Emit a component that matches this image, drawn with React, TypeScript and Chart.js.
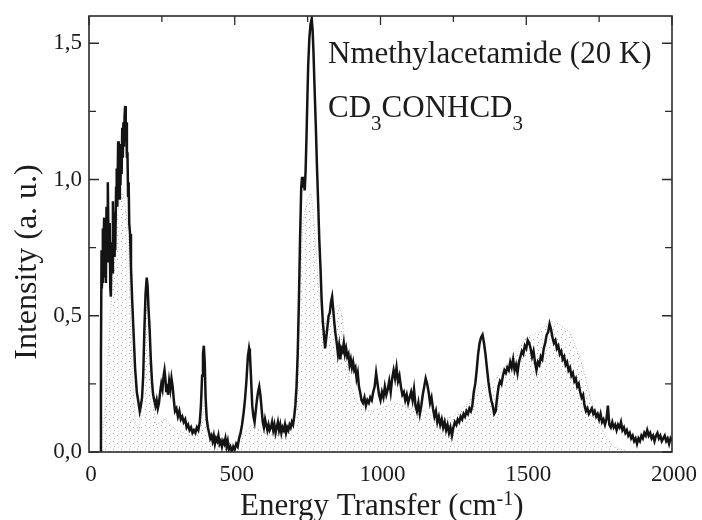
import { useEffect, useRef } from "react";
import { Chart, registerables } from "chart.js";

Chart.register(...registerables);

// Measured INS spectrum: [energy transfer (cm-1), intensity (a.u.)]
const measuredSpectrum: [number, number][] = [
  [38, 0.0], [41, 0.35], [43, 0.74], [44, 0.6], [46, 0.66], [47, 0.82], [48, 0.62], [50, 0.78],
  [52, 0.86], [53, 0.64], [54, 0.74], [56, 0.8], [58, 0.62], [60, 0.9], [62, 0.7], [64, 0.94],
  [65, 0.99], [67, 0.78], [69, 0.7], [71, 0.84], [73, 0.6], [75, 0.57], [77, 0.77], [79, 0.66],
  [82, 0.92], [84, 0.76], [86, 0.72], [88, 0.88], [90, 0.74], [93, 0.97], [95, 1.04], [97, 0.9],
  [100, 1.14], [102, 0.98], [104, 0.93], [106, 1.1], [108, 0.98], [110, 1.13], [112, 1.02], [114, 1.19],
  [116, 1.08], [118, 1.21], [120, 1.12], [122, 1.23], [124, 1.27], [126, 1.16], [128, 1.21], [130, 1.08],
  [132, 1.1], [134, 0.94], [136, 0.99], [138, 0.84], [141, 0.8], [144, 0.68], [148, 0.56], [152, 0.46],
  [158, 0.31], [164, 0.22], [170, 0.18], [174, 0.15],
  [178, 0.17], [182, 0.2], [186, 0.28], [190, 0.45], [194, 0.58], [198, 0.64], [201, 0.61], [204, 0.53],
  [208, 0.45], [212, 0.34], [216, 0.26], [220, 0.21], [224, 0.19], [228, 0.17], [232, 0.19], [236, 0.16],
  [240, 0.18], [244, 0.22], [248, 0.25], [252, 0.23], [256, 0.28], [259, 0.3], [262, 0.27], [265, 0.22],
  [268, 0.25], [271, 0.21], [275, 0.26], [279, 0.23], [283, 0.27], [287, 0.24], [291, 0.19], [295, 0.15],
  [300, 0.16], [305, 0.13], [310, 0.15], [315, 0.12], [320, 0.13], [325, 0.11], [330, 0.12], [335, 0.09],
  [340, 0.1], [345, 0.08], [350, 0.09], [355, 0.07], [360, 0.08], [365, 0.07], [370, 0.09], [375, 0.08],
  [380, 0.11], [384, 0.17], [388, 0.28], [391, 0.36], [394, 0.39], [397, 0.33], [400, 0.2], [404, 0.12],
  [408, 0.09], [412, 0.07], [416, 0.05], [420, 0.06], [424, 0.04], [428, 0.06], [432, 0.03], [436, 0.05],
  [440, 0.04], [444, 0.06], [448, 0.03], [452, 0.04], [456, 0.02], [460, 0.04], [464, 0.03], [468, 0.05],
  [472, 0.02], [476, 0.04], [480, 0.01], [485, 0.02], [490, 0.0], [495, 0.02], [500, 0.01], [505, 0.03],
  [510, 0.02], [515, 0.05], [520, 0.07], [525, 0.1], [530, 0.14], [535, 0.19], [540, 0.26], [545, 0.35],
  [549, 0.38], [552, 0.36], [556, 0.27], [560, 0.17], [564, 0.13], [568, 0.11], [572, 0.15], [576, 0.19],
  [580, 0.22], [584, 0.24], [588, 0.21], [592, 0.16], [596, 0.11], [600, 0.09], [604, 0.12], [608, 0.1],
  [612, 0.08], [616, 0.1], [620, 0.08], [624, 0.09], [628, 0.11], [632, 0.08], [636, 0.1], [640, 0.07],
  [644, 0.09], [648, 0.11], [652, 0.08], [656, 0.1], [660, 0.07], [664, 0.09], [668, 0.08], [672, 0.1],
  [676, 0.07], [680, 0.09], [684, 0.08], [688, 0.1], [692, 0.09], [696, 0.11], [700, 0.1], [704, 0.13],
  [708, 0.17], [712, 0.24], [716, 0.36], [720, 0.55], [724, 0.78], [728, 0.97], [731, 1.01], [734, 0.97],
  [737, 1.0], [740, 0.96], [743, 1.03], [746, 1.15], [749, 1.29], [752, 1.42], [756, 1.52], [760, 1.57],
  [764, 1.59], [767, 1.55], [770, 1.47], [774, 1.33], [778, 1.2], [782, 1.05], [786, 0.92], [790, 0.78],
  [794, 0.68], [798, 0.56], [802, 0.48], [806, 0.43], [810, 0.38], [814, 0.42], [818, 0.46], [822, 0.5],
  [826, 0.51], [830, 0.55], [834, 0.57], [838, 0.52], [842, 0.47], [846, 0.43], [850, 0.4], [854, 0.36],
  [858, 0.39], [862, 0.34], [866, 0.38], [870, 0.37], [874, 0.4], [878, 0.36], [882, 0.38], [886, 0.35],
  [890, 0.36], [894, 0.32], [898, 0.34], [902, 0.31], [906, 0.33], [910, 0.3], [914, 0.31], [918, 0.27],
  [922, 0.29], [926, 0.24], [930, 0.22], [935, 0.19], [940, 0.18], [945, 0.2], [950, 0.17], [955, 0.19],
  [960, 0.18], [965, 0.2], [970, 0.19], [975, 0.22], [980, 0.24], [985, 0.29], [990, 0.25], [995, 0.21],
  [1000, 0.19], [1005, 0.22], [1010, 0.2], [1015, 0.24], [1020, 0.21], [1025, 0.23], [1030, 0.26], [1035, 0.22],
  [1040, 0.27], [1045, 0.3], [1050, 0.27], [1055, 0.31], [1060, 0.26], [1065, 0.28], [1070, 0.24], [1075, 0.21],
  [1080, 0.22], [1085, 0.19], [1090, 0.21], [1095, 0.18], [1100, 0.2], [1105, 0.22], [1110, 0.19], [1115, 0.23],
  [1120, 0.17], [1125, 0.15], [1130, 0.18], [1135, 0.14], [1140, 0.17], [1145, 0.21], [1150, 0.24], [1155, 0.27],
  [1160, 0.25], [1165, 0.22], [1170, 0.18], [1175, 0.2], [1180, 0.16], [1185, 0.13], [1190, 0.15], [1195, 0.11],
  [1200, 0.13], [1205, 0.1], [1210, 0.12], [1215, 0.09], [1220, 0.11], [1225, 0.08], [1230, 0.1], [1235, 0.07],
  [1240, 0.09], [1245, 0.06], [1250, 0.09], [1255, 0.11], [1260, 0.1], [1265, 0.12], [1270, 0.11], [1275, 0.13],
  [1280, 0.12], [1285, 0.14], [1290, 0.13], [1295, 0.15], [1300, 0.14], [1305, 0.16], [1310, 0.15], [1315, 0.17],
  [1320, 0.22], [1325, 0.25], [1330, 0.3], [1335, 0.36], [1340, 0.4], [1345, 0.42], [1350, 0.43], [1355, 0.4],
  [1360, 0.36], [1365, 0.31], [1370, 0.26], [1375, 0.22], [1380, 0.19], [1385, 0.17], [1390, 0.14], [1395, 0.15],
  [1400, 0.2], [1405, 0.24], [1410, 0.26], [1415, 0.25], [1420, 0.28], [1425, 0.3], [1430, 0.29], [1435, 0.31],
  [1440, 0.3], [1445, 0.33], [1450, 0.31], [1455, 0.34], [1460, 0.3], [1465, 0.32], [1470, 0.29], [1475, 0.33],
  [1480, 0.35], [1485, 0.37], [1490, 0.36], [1495, 0.39], [1500, 0.38], [1505, 0.41], [1510, 0.4], [1515, 0.38],
  [1520, 0.35], [1525, 0.37], [1530, 0.33], [1535, 0.3], [1540, 0.33], [1545, 0.32], [1550, 0.35], [1555, 0.34],
  [1560, 0.38], [1565, 0.4], [1570, 0.43], [1575, 0.44], [1580, 0.47], [1585, 0.45], [1590, 0.42], [1595, 0.4],
  [1600, 0.41], [1605, 0.38], [1610, 0.39], [1615, 0.36], [1620, 0.37], [1625, 0.34], [1630, 0.35], [1635, 0.32],
  [1640, 0.33], [1645, 0.3], [1650, 0.31], [1655, 0.28], [1660, 0.29], [1665, 0.26], [1670, 0.27], [1675, 0.24],
  [1680, 0.25], [1685, 0.22], [1690, 0.2], [1695, 0.21], [1700, 0.17], [1705, 0.15], [1710, 0.16], [1715, 0.14],
  [1720, 0.15], [1725, 0.16], [1730, 0.14], [1735, 0.15], [1740, 0.13], [1745, 0.14], [1750, 0.12], [1755, 0.14],
  [1760, 0.11], [1765, 0.12], [1770, 0.1], [1775, 0.12], [1780, 0.17], [1785, 0.1], [1790, 0.09], [1795, 0.11],
  [1800, 0.09], [1805, 0.1], [1810, 0.08], [1815, 0.1], [1820, 0.09], [1825, 0.11], [1830, 0.08], [1835, 0.09],
  [1840, 0.07], [1845, 0.08], [1850, 0.06], [1855, 0.07], [1860, 0.05], [1865, 0.06], [1870, 0.04], [1875, 0.05],
  [1880, 0.03], [1885, 0.05], [1890, 0.04], [1895, 0.06], [1900, 0.05], [1905, 0.07], [1910, 0.06], [1915, 0.08],
  [1920, 0.06], [1925, 0.07], [1930, 0.05], [1935, 0.06], [1940, 0.04], [1945, 0.06], [1950, 0.07], [1955, 0.05],
  [1960, 0.06], [1965, 0.04], [1970, 0.05], [1975, 0.06], [1980, 0.04], [1985, 0.05], [1990, 0.03], [1995, 0.05],
  [2000, 0.04],
];

// Calculated spectrum, drawn as a stippled area
const calculatedSpectrum: [number, number][] = [
  [0, 0], [40, 0], [55, 0.15], [70, 0.45], [85, 0.7], [95, 0.85], [105, 0.92], [115, 0.95],
  [125, 0.9], [135, 0.8], [142, 0.5], [150, 0.25], [160, 0.1], [172, 0.08], [182, 0.2], [192, 0.48],
  [200, 0.55], [208, 0.45], [218, 0.2], [230, 0.1], [260, 0.12], [300, 0.08], [350, 0.06], [385, 0.1],
  [395, 0.18], [405, 0.08], [450, 0.04], [500, 0.03], [540, 0.08], [560, 0.1], [585, 0.08], [620, 0.06],
  [680, 0.08], [700, 0.12], [712, 0.3], [722, 0.6], [735, 0.85], [750, 0.93], [762, 0.95], [775, 0.8],
  [788, 0.6], [800, 0.5], [815, 0.48], [830, 0.5], [845, 0.53], [858, 0.54], [868, 0.5], [880, 0.38],
  [895, 0.25], [920, 0.18], [960, 0.15], [1000, 0.16], [1050, 0.18], [1100, 0.16], [1150, 0.15], [1200, 0.12],
  [1250, 0.13], [1300, 0.18], [1340, 0.24], [1380, 0.25], [1420, 0.3], [1460, 0.36], [1500, 0.42], [1540, 0.44],
  [1580, 0.48], [1610, 0.47], [1650, 0.44], [1690, 0.33], [1720, 0.2], [1745, 0.12], [1770, 0.06], [1800, 0.02],
  [1850, 0], [2000, 0],
];

const xTickValues = [0, 250, 500, 750, 1000, 1250, 1500, 1750, 2000];
const xLabeled = [0, 500, 1000, 1500, 2000];
const yTickValues = [0, 0.25, 0.5, 0.75, 1.0, 1.25, 1.5];
const yLabeled = [0, 0.5, 1.0, 1.5];

const compoundName = "Nmethylacetamide (20 K)";
const SERIF = '"Liberation Serif", "Times New Roman", serif';
const INK = "#1c1c1c";

const fmtComma = (v: number) => v.toFixed(1).replace(".", ",");

type Run = { text: string; size: number; rise: number };

function drawRuns(ctx: CanvasRenderingContext2D, x: number, y: number, runs: Run[]) {
  let cx = x;
  for (const r of runs) {
    ctx.font = `${r.size}px ${SERIF}`;
    ctx.fillText(r.text, cx, y - r.rise);
    cx += ctx.measureText(r.text).width;
  }
}

const framePlugin = {
  id: "frameTicks",
  afterDatasetsDraw(chart: any) {
    const { ctx, chartArea: a, scales } = chart;
    ctx.save();
    ctx.strokeStyle = "#2a2a2a";
    ctx.lineWidth = 1.6;
    ctx.strokeRect(a.left, a.top, a.right - a.left, a.bottom - a.top);
    ctx.lineWidth = 1.3;
    ctx.beginPath();
    for (const v of yTickValues) {
      const py = scales.y.getPixelForValue(v);
      const len = yLabeled.includes(v) ? 10 : 7;
      ctx.moveTo(a.left, py);
      ctx.lineTo(a.left + len, py);
      ctx.moveTo(a.right, py);
      ctx.lineTo(a.right - len, py);
    }
    for (const v of xTickValues) {
      const px = scales.x.getPixelForValue(v);
      const len = xLabeled.includes(v) ? 9 : 6;
      ctx.moveTo(px, a.top);
      ctx.lineTo(px, a.top + len);
    }
    ctx.stroke();
    ctx.restore();
  },
};

const textPlugin = {
  id: "figureText",
  afterDraw(chart: any) {
    const { ctx } = chart;
    ctx.save();
    ctx.fillStyle = INK;
    ctx.textAlign = "left";
    ctx.textBaseline = "alphabetic";

    // sample label
    drawRuns(ctx, 328, 63, [{ text: compoundName, size: 31, rise: 0 }]);
    drawRuns(ctx, 328, 117, [
      { text: "CD", size: 31, rise: 0 },
      { text: "3", size: 21, rise: -13 },
      { text: "CONHCD", size: 31, rise: 0 },
      { text: "3", size: 21, rise: -13 },
    ]);

    // x-axis title with superscript
    drawRuns(ctx, 240, 515, [
      { text: "Energy Transfer (cm", size: 31, rise: 0 },
      { text: "-1", size: 20, rise: 10 },
      { text: ")", size: 31, rise: 0 },
    ]);

    // y-axis title
    ctx.translate(36, 262);
    ctx.rotate(-Math.PI / 2);
    ctx.textAlign = "center";
    ctx.font = `32px ${SERIF}`;
    ctx.fillText("Intensity (a. u.)", 0, 0);
    ctx.restore();
  },
};

// sparse grey stipple used to fill the calculated spectrum
function makeStipple(): CanvasPattern | string {
  const c = document.createElement("canvas");
  c.width = 8;
  c.height = 8;
  const g = c.getContext("2d");
  if (!g) return "rgba(0,0,0,0.06)";
  g.fillStyle = "rgba(60,60,60,0.45)";
  g.fillRect(1, 1, 1, 1);
  g.fillRect(5, 3, 1, 1);
  g.fillRect(2, 6, 1, 1);
  g.fillStyle = "rgba(90,90,90,0.22)";
  g.fillRect(6, 7, 1, 1);
  g.fillRect(3, 4, 1, 1);
  return g.createPattern(c, "repeat") || "rgba(0,0,0,0.06)";
}

export default function App() {
  const canvasRef = useRef<HTMLCanvasElement | null>(null);

  useEffect(() => {
    const canvas = canvasRef.current;
    if (!canvas) return;
    const tickFont = { family: SERIF, size: 23 };

    const chart = new Chart(canvas, {
      type: "line",
      data: {
        datasets: [
          {
            label: "measured",
            data: measuredSpectrum.map(([x, y]) => ({ x, y })),
            borderColor: "#141414",
            borderWidth: 2.5,
            pointRadius: 0,
            tension: 0,
            fill: false,
            order: 0,
          },
          {
            label: "calculated",
            data: calculatedSpectrum.map(([x, y]) => ({ x, y })),
            borderColor: "rgba(110,110,110,0.45)",
            borderWidth: 1,
            borderDash: [1, 2],
            backgroundColor: makeStipple() as any,
            pointRadius: 0,
            tension: 0,
            fill: "origin",
            order: 1,
          },
        ],
      },
      options: {
        responsive: false,
        animation: false,
        events: [],
        layout: { padding: { top: 16, right: 30, left: 0, bottom: 0 } },
        plugins: {
          legend: { display: false },
          tooltip: { enabled: false },
        },
        scales: {
          x: {
            type: "linear",
            min: 0,
            max: 2000,
            grid: { display: false, drawTicks: false },
            border: { display: false },
            afterBuildTicks: (s: any) => {
              s.ticks = xTickValues.map((value) => ({ value }));
            },
            afterFit: (s: any) => {
              s.height = 68;
              s.paddingLeft = 0;
              s.paddingRight = 0;
            },
            ticks: {
              autoSkip: false,
              maxRotation: 0,
              padding: 9,
              labelOffset: 2,
              color: INK,
              font: tickFont,
              callback: (v: any) => (xLabeled.includes(Number(v)) ? String(v) : ""),
            },
          },
          y: {
            type: "linear",
            min: 0,
            max: 1.6,
            grid: { display: false, drawTicks: false },
            border: { display: false },
            afterBuildTicks: (s: any) => {
              s.ticks = yTickValues.map((value) => ({ value }));
            },
            afterFit: (s: any) => {
              s.width = 89;
              s.paddingTop = 0;
              s.paddingBottom = 0;
            },
            ticks: {
              autoSkip: false,
              padding: 7,
              color: INK,
              font: tickFont,
              callback: (v: any) => (yLabeled.includes(Number(v)) ? fmtComma(Number(v)) : ""),
            },
          },
        },
      },
      plugins: [framePlugin, textPlugin],
    });

    return () => chart.destroy();
  }, []);

  return (
    <div style={{ position: "fixed", left: 0, top: 0, width: 702, height: 520, background: "#fff" }}>
      <canvas ref={canvasRef} width={702} height={520} style={{ width: 702, height: 520 }} />
    </div>
  );
}
